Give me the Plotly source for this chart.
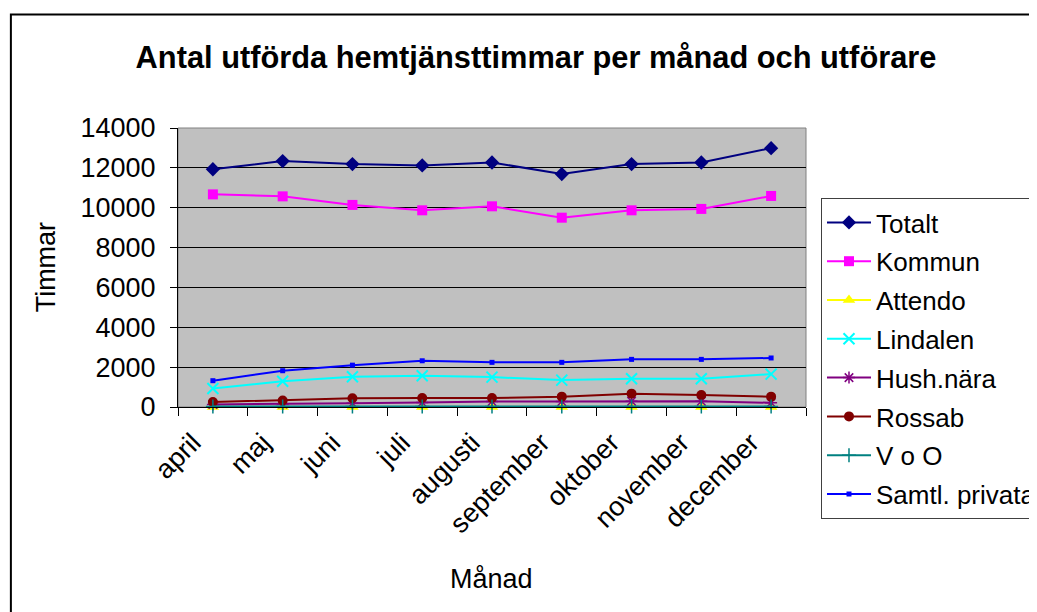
import plotly.graph_objects as go

months = ["april", "maj", "juni", "juli", "augusti", "september", "oktober", "november", "december"]

totalt = [11930, 12340, 12190, 12120, 12270, 11690, 12190, 12270, 12990]
kommun = [10670, 10570, 10140, 9870, 10070, 9500, 9870, 9940, 10590]
attendo = [0, 0, 0, 0, 0, 0, 0, 0, 0]
lindalen = [930, 1290, 1520, 1570, 1500, 1350, 1420, 1420, 1650]
hushnara = [130, 150, 190, 230, 280, 280, 290, 290, 210]
rossab = [250, 330, 440, 450, 450, 520, 670, 600, 520]
voo = [20, 20, 20, 20, 20, 20, 20, 20, 20]
samtl = [1320, 1820, 2100, 2320, 2240, 2240, 2390, 2390, 2460]

series = [
    ("Totalt", totalt, "#000080", "diamond", 11, 1),
    ("Kommun", kommun, "#FF00FF", "square", 10, 1),
    ("Attendo", attendo, "#FFFF00", "triangle-up", 11, 1),
    ("Lindalen", lindalen, "#00FFFF", "x-thin-open", 11, 2),
    ("Hush.nära", hushnara, "#800080", "asterisk-open", 10, 1.5),
    ("Rossab", rossab, "#800000", "circle", 10, 1),
    ("V o O", voo, "#008080", "cross-thin-open", 10, 1.5),
    ("Samtl. privata", samtl, "#0000FF", "square", 5, 1),
]

FONT = "Liberation Sans, Arial, sans-serif"

fig = go.Figure()
for i, (name, vals, col, sym, sz, mlw) in enumerate(series):
    open_sym = sym.endswith("open")
    fig.add_trace(go.Scatter(
        x=months, y=vals, name=name, mode="lines+markers",
        line=dict(color=col, width=2),
        marker=dict(symbol=sym, size=sz, color=col,
                    line=dict(color=col, width=mlw if open_sym else 0)),
        legendgroup=f"g{i}", cliponaxis=False,
    ))

# page body has an 8px margin; work in screen pixels and shift
OFF = 8
W, H = 1037, 612 - OFF
L, R, T, B = 177.7 - OFF, 806 - OFF, 128 - OFF, 407 - OFF
pw, ph = R - L, B - T

def px(xs):
    return (xs - OFF - L) / pw

def py(ys):
    return (B - (ys - OFF)) / ph

fig.update_layout(
    width=W, height=H,
    margin=dict(l=L, r=W - R, t=T, b=H - B, autoexpand=False),
    paper_bgcolor="white",
    plot_bgcolor="#C0C0C0",
    font=dict(family=FONT, color="black", size=27),
    showlegend=True,
    title=dict(text="<b>Antal utförda hemtjänsttimmar per månad och utförare</b>",
               x=(536 - OFF) / W, xref="container", xanchor="center",
               y=1 - (57 - OFF) / H, yref="container", yanchor="middle",
               font=dict(size=30.8, family=FONT, color="black")),
    legend=dict(x=px(821), y=py(198), xanchor="left", yanchor="top",
                bgcolor="white", bordercolor="#404040", borderwidth=1,
                font=dict(size=26, family=FONT, color="black"),
                tracegroupgap=2, traceorder="grouped",
                itemwidth=44, maxheight=500),
    xaxis=dict(type="category", tickson="boundaries", ticks="outside", ticklen=8,
               tickcolor="black", tickwidth=1, showline=True, linecolor="black",
               linewidth=1, showgrid=False, tickangle=-45, ticklabelstandoff=8,
               ticklabelshift=-20,
               tickfont=dict(size=27, family=FONT, color="black"),
               range=[-0.5, 8.5]),
    yaxis=dict(range=[0, 14000], tickvals=[0, 2000, 4000, 6000, 8000, 10000, 12000, 14000],
               ticktext=["0", "2000", "4000", "6000", "8000", "10000", "12000", "14000"],
               ticks="outside", ticklen=7, tickcolor="black", showline=True,
               linecolor="black", linewidth=1, showgrid=True, gridcolor="black",
               gridwidth=1, zeroline=False, ticklabelstandoff=9,
               tickfont=dict(size=27, family=FONT, color="black")),
    annotations=[
        dict(text="Timmar", x=px(46), y=py(267), xref="paper", yref="paper",
             showarrow=False, textangle=-90, font=dict(size=27, family=FONT, color="black"),
             xanchor="center", yanchor="middle"),
        dict(text="Månad", x=px(491), y=py(579), xref="paper", yref="paper",
             showarrow=False, font=dict(size=27, family=FONT, color="black"),
             xanchor="center", yanchor="middle"),
    ],
    shapes=[
        dict(type="rect", xref="paper", yref="paper", x0=px(10.5), x1=px(1070),
             y0=py(640), y1=py(14.5), line=dict(color="black", width=2)),
        dict(type="rect", xref="paper", yref="paper", x0=0, x1=1, y0=0, y1=1,
             line=dict(color="#808080", width=1), layer="below"),
    ],
)

fig.write_html("out.html")
